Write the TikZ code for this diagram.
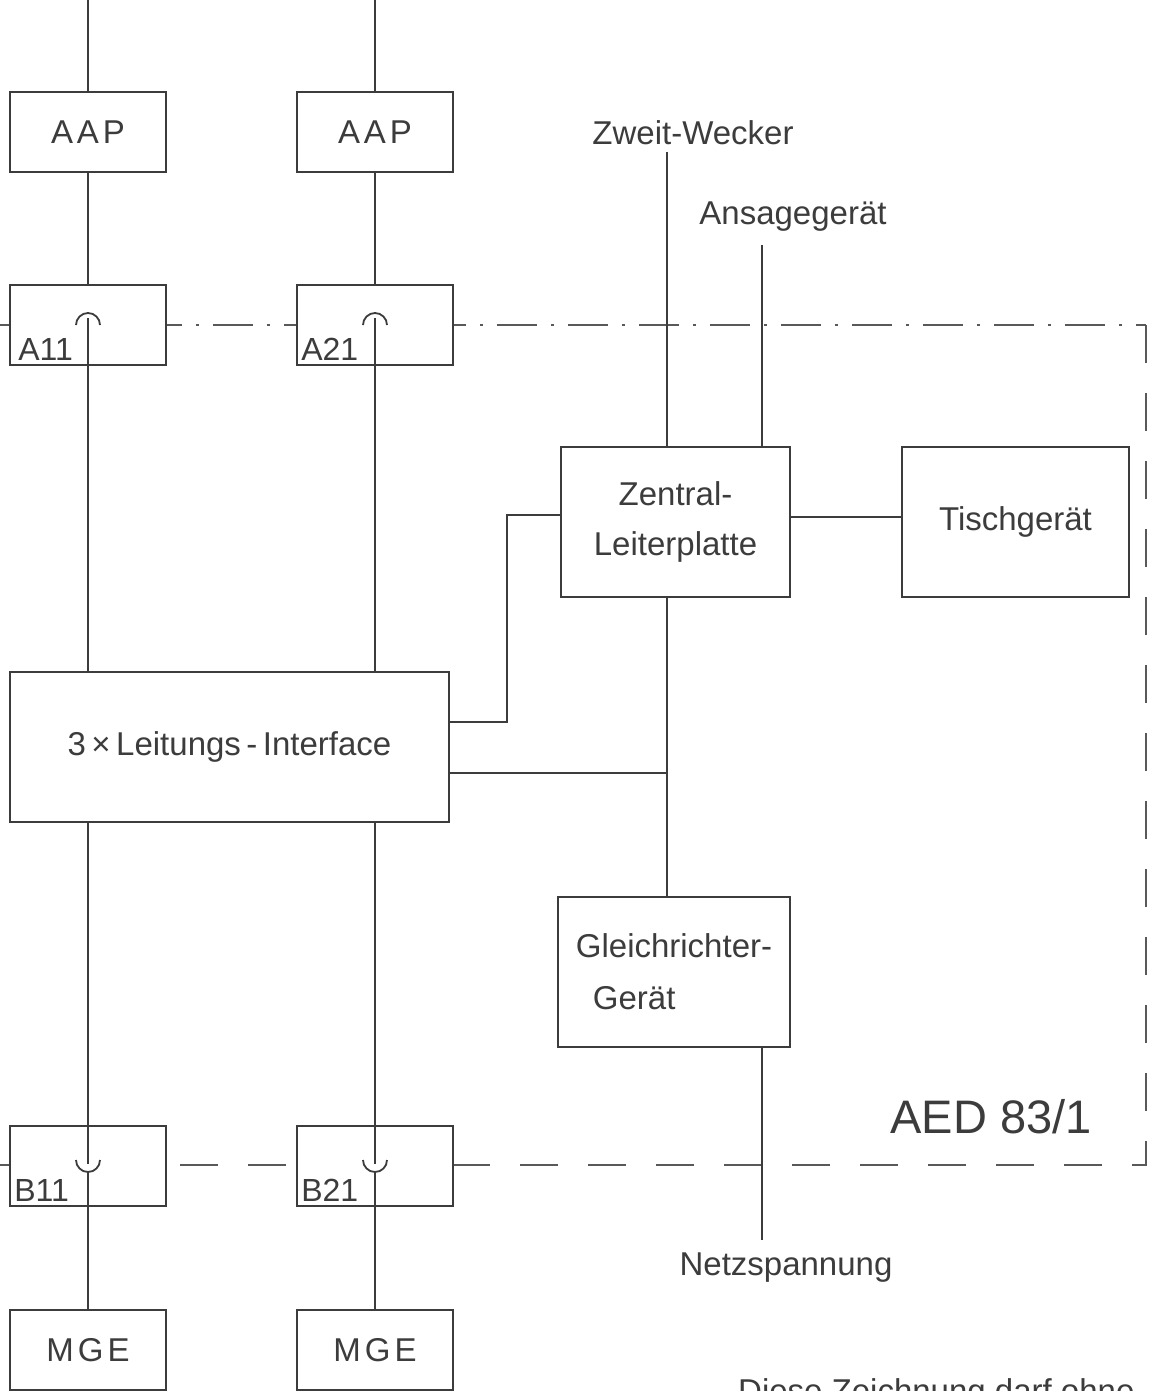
\documentclass[tikz,border=0pt]{standalone}
\usepackage{fontspec}
\setmainfont{Liberation Sans}
\usetikzlibrary{positioning, calc}
\definecolor{ink}{HTML}{3C3C3C}

\begin{document}
\begin{tikzpicture}[x=1pt, y=-1pt,
  every node/.style={text=ink, font=\fontsize{33}{48}\selectfont},
  unit/.style={draw=ink, fill=white, line width=1.8pt, inner sep=0pt,
    minimum width=156pt, minimum height=80pt},
  bigunit/.style={unit, minimum width=229pt, minimum height=150pt},
  spaced/.style={font=\fontsize{33}{40}\selectfont\addfontfeature{LetterSpace=12}},
  tag/.style={font=\fontsize{32}{36}\selectfont, inner sep=0pt, anchor=south west},
  wire/.style={draw=ink, line width=1.8pt},
  border/.style={draw=ink!85, line width=1.5pt, dash pattern=on 40pt off 14pt on 3pt off 14pt},
  borderdash/.style={draw=ink!85, line width=1.5pt, dash pattern=on 38pt off 30pt}]

  \clip (0,0) rectangle (1156,1391);
  \fill[white] (0,0) rectangle (1156,1391);

  % device boundary
  \draw[border] (0,325) -- (1146,325);
  \draw[borderdash] (1146,325) -- (1146,1165) -- (0,1165);

  % line 1 and line 2
  \node[unit, spaced] (aap1) at (88,132) {AAP};
  \node[unit, spaced] (aap2) at (375,132) {AAP};
  \node[unit] (a11) at (88,325) {};
  \node[unit] (a21) at (375,325) {};
  \node[unit, minimum width=439pt, minimum height=150pt] (lif) at (229.5,747) {3\,×\,Leitungs\,-\,Interface};
  \node[unit] (b11) at (88,1166) {};
  \node[unit] (b21) at (375,1166) {};
  \node[unit, spaced] (mge1) at (88,1350) {MGE};
  \node[unit, spaced] (mge2) at (375,1350) {MGE};

  % plug labels
  \node[tag] (a11tag) at ([xshift=9pt, yshift=5pt]a11.south west) {A11};
  \node[tag] (a21tag) at ([xshift=5pt, yshift=5pt]a21.south west) {A21};
  \node[tag] (b11tag) at ([xshift=5pt, yshift=5pt]b11.south west) {B11};
  \node[tag] (b21tag) at ([xshift=5pt, yshift=5pt]b21.south west) {B21};

  % devices
  \node[bigunit, align=center] (zlp) at (675.5,522) {Zentral-\\[2pt]Leiterplatte};
  \node[bigunit, minimum width=227pt] (tisch) at (1015.5,522) {Tischgerät};
  \node[bigunit, minimum width=232pt, align=left] (gleich) at (674,972) {Gleichrichter-\\[4pt]\hspace{17pt}Gerät};

  % outside labels
  \node (wecker) at (693,133) {Zweit-Wecker};
  \node (ansage) at (793,217) {Ansagegerät};
  \node (netz) at (786,1268) {Netzspannung};
  \node[font=\fontsize{47}{52}\selectfont] (aed) at (991,1117) {AED 83/1};
  \node[anchor=north west, inner sep=0pt] (hinweis) at (738,1378) {Diese Zeichnung darf ohne};

  \coordinate (zw) at (667,152);
  \coordinate (an) at (762,245);
  \coordinate (netzend) at (762,1240);

  % line 1
  \draw[wire] (aap1) -- (aap1 |- 0,0);
  \draw[wire] (aap1) -- (a11);
  \draw[wire] ([yshift=7pt]a11.center) -- (a11 |- lif.north);
  \draw[wire] ([xshift=-12pt]a11.center) arc[start angle=180, end angle=0, radius=12pt];
  \draw[wire] (a11 |- lif.south) -- ([yshift=2pt]b11.center);
  \draw[wire] ([xshift=-12pt, yshift=6pt]b11.center) arc[start angle=180, end angle=360, radius=12pt];
  \draw[wire] ([yshift=-6pt]b11.center) -- (mge1);

  % line 2
  \draw[wire] (aap2) -- (aap2 |- 0,0);
  \draw[wire] (aap2) -- (a21);
  \draw[wire] ([yshift=7pt]a21.center) -- (a21 |- lif.north);
  \draw[wire] ([xshift=-12pt]a21.center) arc[start angle=180, end angle=0, radius=12pt];
  \draw[wire] (a21 |- lif.south) -- ([yshift=2pt]b21.center);
  \draw[wire] ([xshift=-12pt, yshift=6pt]b21.center) arc[start angle=180, end angle=360, radius=12pt];
  \draw[wire] ([yshift=-6pt]b21.center) -- (mge2);

  % central part
  \draw[wire] (zw) -- (zw |- zlp.north);
  \draw[wire] (an) -- (an |- zlp.north);
  \draw[wire] ([yshift=5pt]zlp.east) -- ([yshift=5pt]zlp.east -| tisch.west);
  \draw[wire] (zw |- zlp.south) -- (zw |- gleich.north);
  \draw[wire] ([yshift=25pt]lif.east) -| ([xshift=-53pt, yshift=7pt]zlp.west) -- ([yshift=7pt]zlp.west);
  \draw[wire] ([yshift=-26pt]lif.east) -- ([yshift=-26pt]lif.east -| zw);
  \draw[wire] (an |- gleich.south) -- (netzend);
\end{tikzpicture}
\end{document}
